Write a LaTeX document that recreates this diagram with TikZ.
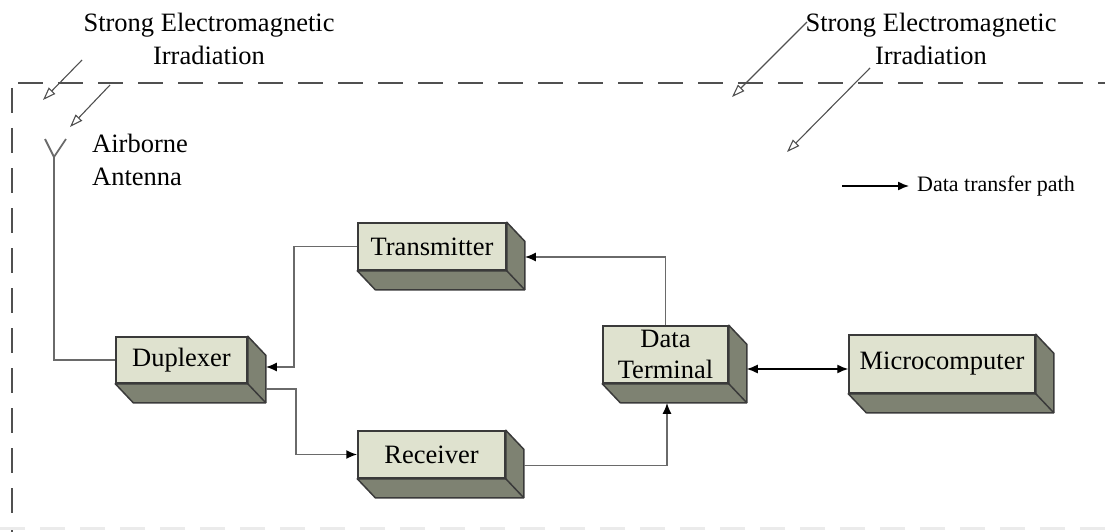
\documentclass[tikz,border=0pt]{standalone}
\usepackage{fontspec}
\setmainfont{Liberation Serif}
\usetikzlibrary{arrows.meta,calc}

\definecolor{facefill}{HTML}{DFE2CF}
\definecolor{sidefill}{HTML}{7E8272}
\definecolor{edgecol}{HTML}{3A3A3A}
\definecolor{wirecol}{HTML}{6A6A6A}
\definecolor{framecol}{HTML}{505050}

\tikzset{
  blockbox/.style={draw=edgecol, line width=1.5pt, fill=facefill,
    inner sep=0pt, align=center,
    font=\fontsize{26.5}{31}\selectfont},
  sideface/.style={draw=edgecol, line width=1.5pt, fill=sidefill, line join=round},
  flow/.style={draw=wirecol, line width=1.8pt,
    -{Latex[length=11pt,width=9pt,color=black]}},
  wire/.style={draw=wirecol, line width=1.8pt},
  biflow/.style={draw=black, line width=1.4pt,
    {Latex[length=11pt,width=9pt]}-{Latex[length=11pt,width=9pt]}},
  emwave/.style={draw=framecol, line width=1.1pt,
    -{Triangle[open,length=13pt,width=9pt]}},
  frame/.style={draw=framecol, line width=2.2pt, dash pattern=on 25pt off 15pt},
  label/.style={inner sep=0pt, font=\fontsize{26.5}{33}\selectfont},
}

\begin{document}
\begin{tikzpicture}[x=1pt,y=-1pt]
\useasboundingbox (0,0) rectangle (1105,532);

% shielded enclosure
\draw[frame] (18,83) -- (1105,83);
\draw[frame] (12,88) -- (12,532);
\draw[draw=black!8, line width=3pt, dash pattern=on 25pt off 15pt] (0,528) -- (1105,528);

% radiation labels and incident waves
\node[label, align=center] (emL) at (209,39) {Strong Electromagnetic\\Irradiation};
\node[label, align=center] (emR) at (931,39) {Strong Electromagnetic\\Irradiation};
\coordinate (w1s) at (82,60);   \coordinate (w1e) at (43,100);
\coordinate (w2s) at (110,85);  \coordinate (w2e) at (70,127);
\coordinate (w3s) at (807,22);  \coordinate (w3e) at (732,97);
\coordinate (w4s) at (870,68);  \coordinate (w4e) at (787,152);
\draw[emwave] (w1s) -- (w1e);
\draw[emwave] (w2s) -- (w2e);
\draw[emwave] (w3s) -- (w3e);
\draw[emwave] (w4s) -- (w4e);

% antenna
\node[label, align=left, anchor=west] (antlbl) at (92,160) {Airborne\\Antenna};
\coordinate (antfoot) at (54,157);
\coordinate (armL) at (45,139);
\coordinate (armR) at (66,139);
\draw[wire] (armL) -- (antfoot) -- (armR);

% legend
\node[inner sep=0pt, anchor=west, font=\fontsize{22}{26}\selectfont] (leg) at (917,186) {Data transfer path};
\coordinate (legA) at (842,186);
\draw[draw=black, line width=1.4pt, -{Latex[length=11pt,width=9pt]}] (legA) -- ($(leg.west)+(-8,0)$);

% blocks (front faces)
\node[blockbox, minimum width=148pt, minimum height=47pt] (tx)  at (432,246.5) {Transmitter};
\node[blockbox, minimum width=131pt, minimum height=46pt] (dup) at (181.5,360) {Duplexer};
\node[blockbox, minimum width=147pt, minimum height=47pt] (rx)  at (431.5,454.5) {Receiver};
\node[blockbox, minimum width=125pt, minimum height=57pt] (dt)  at (665.5,354.5) {Data\\Terminal};
\node[blockbox, minimum width=186pt, minimum height=58pt] (mc)  at (942,364) {Microcomputer};

% extruded side faces
\foreach \n in {tx,dup,rx,dt,mc}{
  \path[sideface] (\n.south west) -- ($(\n.south west)+(18,19)$)
     -- ($(\n.south east)+(18,19)$) -- ($(\n.north east)+(18,19)$)
     -- (\n.north east) -- (\n.south east) -- cycle;
  \draw[draw=edgecol, line width=1.5pt] (\n.south east) -- ($(\n.south east)+(18,19)$);
}

% ports on the extruded faces
\coordinate (dupIn)  at ($(dup.east)+(18,7)$);
\coordinate (dupOut) at ($(dup.east)+(18,29)$);
\coordinate (txIn)   at ($(tx.east)+(18,10.5)$);
\coordinate (rxOut)  at ($(rx.east)+(18,11)$);
\coordinate (dtIn)   at ($(dt.south)+(1.5,19)$);
\coordinate (dtR)    at ($(dt.east)+(18,14.5)$);

% data paths
\draw[wire] (antfoot) |- (dup.west);
\draw[flow] (tx.west) -- ++(-63,0) |- (dupIn);
\draw[flow] (dupOut) -- ++(30,0) |- (rx.west);
\draw[flow] (rxOut) -| (dtIn);
\draw[flow] (dt.north) |- (txIn);
\draw[biflow] (dtR) -- (mc.west |- dtR);
\end{tikzpicture}
\end{document}
